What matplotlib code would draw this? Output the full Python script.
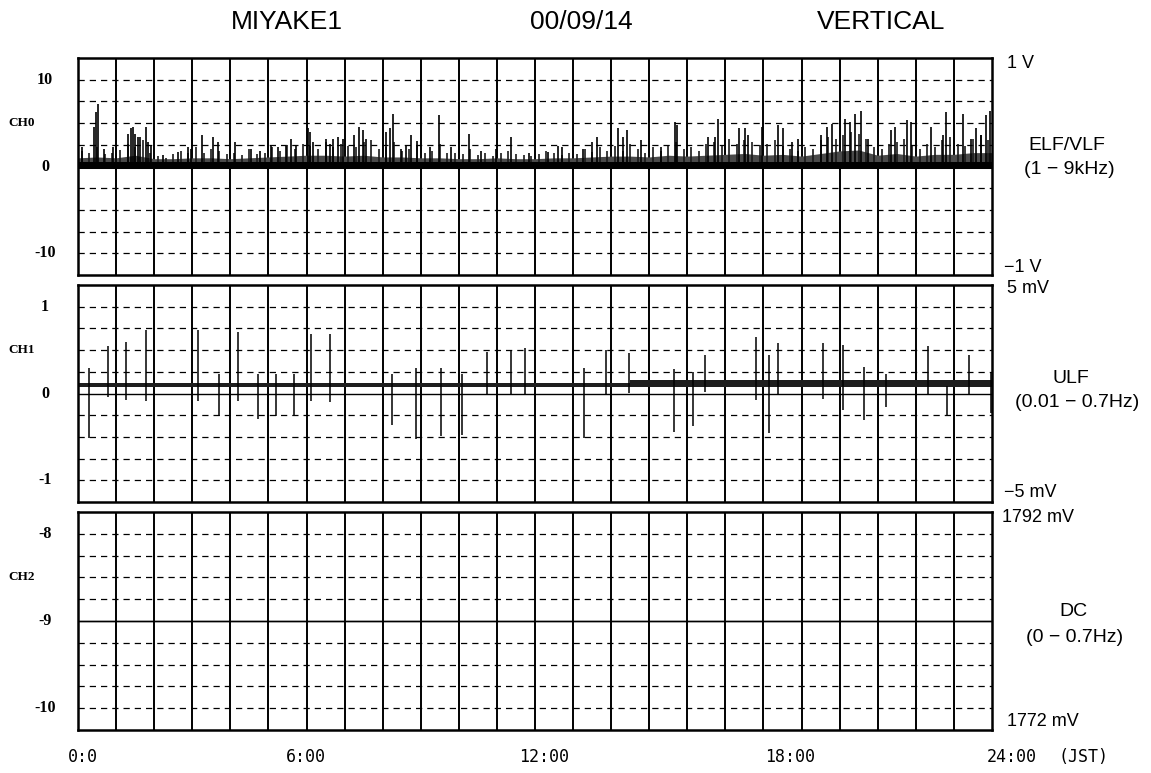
import numpy as np
import matplotlib.pyplot as plt
from matplotlib import transforms

# ---- data ----
hours = list(range(25))

# CH0 (ELF/VLF) background grass floor, every 0.5 h
grass_t = [i * 0.5 for i in range(49)]
grass_h = [1.0, 1.1, 1.0, 1.3, 0.9, 0.9, 1.0, 1.0, 0.9, 1.0, 1.1, 1.2, 1.3, 1.3, 1.2, 1.3,
           1.1, 1.1, 1.0, 1.0, 0.9, 0.9, 1.0, 0.9, 0.9, 1.0, 1.0, 1.1, 1.2, 1.2, 1.1, 1.3,
           1.2, 1.3, 1.4, 1.5, 1.3, 1.4, 1.2, 1.5, 1.8, 1.9, 1.3, 1.5, 1.2, 1.4, 1.4, 1.6, 1.6]

# CH0 small bursts, one per 0.2 h bin
small_t = [0.1 + i * 0.2 for i in range(120)]
small_h = [1.8, 1.5, 2.2, 1.4, 1.6, 1.9, 2.6, 2.2, 3.0, 1.6,
           1.2, 1.0, 1.4, 1.8, 1.5, 2.2, 1.6, 2.0, 1.8, 1.4,
           1.5, 1.3, 2.0, 1.4, 1.6, 2.2, 1.8, 2.5, 2.0, 2.6,
           2.4, 2.0, 2.8, 2.2, 2.6, 2.4, 2.2, 2.8, 3.0, 2.0,
           2.2, 2.8, 1.8, 2.0, 2.4, 1.6, 1.8, 2.6, 1.5, 1.6,
           1.4, 2.0, 1.3, 1.5, 1.2, 1.6, 1.8, 1.4, 1.3, 1.2,
           1.4, 1.8, 1.5, 1.3, 1.6, 1.4, 2.0, 1.7, 2.2, 1.8,
           2.4, 1.8, 2.6, 2.0, 1.6, 2.2, 1.8, 2.4, 2.8, 2.0,
           2.2, 1.8, 2.6, 2.8, 2.4, 3.2, 2.6, 3.0, 2.8, 2.5,
           2.6, 3.0, 2.4, 2.0, 1.8, 2.2, 2.0, 3.0, 3.4, 3.2,
           3.6, 4.0, 3.8, 3.2, 2.2, 2.0, 2.6, 2.8, 3.2, 2.4,
           2.0, 2.6, 2.2, 3.0, 3.4, 2.6, 2.4, 3.2, 3.6, 3.0]

# CH0 spikes: time (h) and peak
ch0_t = [0.10, 0.42, 0.48, 0.52, 0.68, 0.92, 1.01, 1.31, 1.40, 1.44, 1.50, 1.57, 1.64, 1.78,
         1.84, 1.92, 2.23, 2.62, 2.89, 2.97, 3.25, 3.54, 3.67, 4.11, 4.55, 4.77, 5.07, 5.25,
         5.47, 5.60, 5.73, 6.04, 6.08, 6.17, 6.52, 6.61, 6.69, 6.82, 6.96, 7.26, 7.39, 7.48,
         7.57, 8.09, 8.18, 8.27, 8.49, 8.62, 8.75, 8.91, 9.23, 9.49, 9.80, 10.28, 10.59,
         10.98, 11.36, 11.85,
         12.35, 12.61, 12.70, 13.27, 13.49, 13.64, 14.17, 14.32, 14.41, 14.78, 15.32, 15.67,
         15.74, 16.55, 16.72, 16.81, 17.35, 17.51, 17.60, 17.95, 18.39, 18.52, 18.74, 18.91,
         19.52, 19.66, 19.81, 20.14, 20.27, 20.40, 20.56, 20.75, 21.36, 21.45, 21.78, 21.87,
         22.39, 22.72, 22.78, 23.24, 23.46, 23.59, 23.72, 23.85, 23.94]
ch0_h = [2.3, 4.5, 6.25, 7.2, 2.0, 2.3, 2.4, 3.8, 4.4, 4.5, 3.8, 3.4, 3.4, 4.5,
         2.8, 2.4, 1.3, 1.7, 2.3, 2.0, 3.6, 3.4, 2.8, 2.8, 2.0, 1.8, 2.4, 2.2,
         2.4, 3.2, 2.4, 4.4, 4.0, 2.8, 3.2, 2.6, 3.2, 3.4, 3.2, 3.6, 4.5, 4.2,
         3.2, 4.0, 4.4, 6.1, 2.0, 2.4, 3.6, 2.9, 2.3, 5.9, 2.3, 3.8, 1.8,
         2.0, 3.4, 1.5,
         1.7, 2.4, 2.2, 2.0, 2.8, 3.4, 4.4, 3.4, 4.2, 3.0, 2.3, 5.1,
         4.8, 3.4, 3.4, 5.5, 4.4, 4.4, 3.6, 4.5, 4.8, 4.4, 2.8, 3.2,
         3.6, 4.5, 4.9, 5.5, 5.1, 6.1, 6.4, 3.2, 4.2, 4.5, 5.3, 5.1,
         4.5, 3.6, 6.25, 6.1, 3.2, 4.4, 3.6, 5.9, 6.4]

# CH1 (ULF) trace: level and half width before / after 14.5 h
ch1_seg_t = [0.0, 14.5, 24.0]
ch1_level = [0.10, 0.12, 0.12]
ch1_width = [0.026, 0.040, 0.040]

# CH1 spikes: time, top, bottom
ch1_t = [0.28, 0.78, 1.27, 1.78, 3.14, 3.71, 4.21, 4.72, 5.21, 5.68, 6.13, 6.63, 8.24, 8.88,
         9.53, 10.08, 10.75, 11.36, 11.73, 13.29, 13.87, 14.47, 15.65, 16.16, 16.46, 17.81,
         18.15, 18.38, 19.57, 20.09, 20.64, 21.21, 22.31, 22.82, 23.40, 23.97]
ch1_top = [0.29, 0.55, 0.59, 0.73, 0.73, 0.23, 0.71, 0.23, 0.23, 0.23, 0.69, 0.68, 0.23, 0.29,
           0.29, 0.23, 0.48, 0.49, 0.52, 0.29, 0.50, 0.47, 0.28, 0.25, 0.44, 0.65,
           0.44, 0.58, 0.58, 0.56, 0.31, 0.23, 0.55, 0.09, 0.44, 0.25]
ch1_bot = [-0.51, -0.04, -0.07, -0.09, -0.09, -0.26, -0.09, -0.29, -0.26, -0.26, -0.09, -0.10,
           -0.36, -0.52, -0.49, -0.48, -0.02, -0.02, -0.02, -0.51, -0.02, 0.01, -0.44, -0.37,
           0.02, -0.07, -0.46, 0.0, -0.06, -0.19, -0.31, -0.16, 0.0, -0.25, 0.0, -0.23]

# CH2 (DC) reading
ch2_t = [0, 24]
ch2_v = [-9.0, -9.0]

W, H = 1151, 773
fig = plt.figure(figsize=(W / 100, H / 100), dpi=100)


def px(x, y):
    return x / W, 1 - y / H


panels = [
    # bottom px, top px, ylim, center, ticks
    (275, 58, (-12.5, 12.5), 0.0, [10, 0, -10], ['10', '0', '-10'], 'CH0', 5.0),
    (502, 285, (-1.25, 1.25), 0.0, [1, 0, -1], ['1', '0', '-1'], 'CH1', 0.5),
    (730, 512, (-10.25, -7.75), -9.0, [-8, -9, -10], ['-8', '-9', '-10'], 'CH2', -8.5),
]

left, right = 78, 992
axes = []
for bot, top, ylim, center, tks, tls, ch, chy in panels:
    ax = fig.add_axes([left / W, 1 - bot / H, (right - left) / W, (bot - top) / H])
    ax.set_xlim(0, 24)
    ax.set_ylim(*ylim)
    ax.set_xticks([])
    ax.set_yticks([])
    for s in ax.spines.values():
        s.set_linewidth(1.8)
    step = (ylim[1] - ylim[0]) / 10
    for k in range(1, 10):
        yv = ylim[0] + k * step
        if abs(yv - center) < 1e-9:
            ax.axhline(yv, color='black', lw=1.0, zorder=1)
        else:
            ax.axhline(yv, color='black', lw=0.9, ls=(0, (5, 4)), zorder=1)
    for hh in hours[1:-1]:
        ax.axvline(hh, color='black', lw=1.4, zorder=1)
    tr = transforms.blended_transform_factory(fig.transFigure, ax.transData)
    for v, lab in zip(tks, tls):
        fig.text(45 / W, v, lab, transform=tr, ha='center', va='center',
                 family='Liberation Serif', weight='bold', fontsize=11.5)
    fig.text(22 / W, chy, ch, transform=tr, ha='center', va='center',
             family='Liberation Serif', weight='bold', fontsize=9.5)
    axes.append(ax)

ax0, ax1, ax2 = axes

# CH0
ax0.fill_between(grass_t, 0, grass_h, color='#4a4a4a', lw=0, zorder=2)
ax0.vlines(small_t, 0, small_h, color='#1a1a1a', lw=1.2, zorder=3)
ax0.fill_between([0, 24], 0, 0.55, color='black', lw=0, zorder=3)
ax0.axhline(0, color='black', lw=2.2, zorder=3)
ax0.vlines(ch0_t, 0, ch0_h, color='black', lw=1.2, zorder=3)

# CH1
lvl = np.array(ch1_level)
wid = np.array(ch1_width)
ax1.fill_between(ch1_seg_t, lvl - wid, lvl + wid, step='post', color='#1e1e1e', lw=0, zorder=2)
ax1.vlines(ch1_t, ch1_bot, ch1_top, color='black', lw=1.1, zorder=3)

# CH2
ax2.plot(ch2_t, ch2_v, color='black', lw=1.0, zorder=2)

# titles
for x, s in [(287, 'MIYAKE1'), (581, '00/09/14'), (881, 'VERTICAL')]:
    fig.text(*px(x, 22), s, ha='center', va='center', family='Liberation Sans', fontsize=19)

# right side scale labels
for x, y, s in [(1007, 63, '1 V'), (1004, 268, '\u22121 V'), (1007, 288, '5 mV'),
                (1004, 493, '\u22125 mV'), (1002, 518, '1792 mV'), (1007, 722, '1772 mV')]:
    fig.text(*px(x, y), s, ha='left', va='center', family='Liberation Sans', fontsize=13)

for x, y, s in [(1067, 145, 'ELF/VLF'), (1069, 170, '(1 \u2212 9kHz)'),
                (1071, 378, 'ULF'), (1077, 403, '(0.01 \u2212 0.7Hz)'),
                (1073, 612, 'DC'), (1075, 637, '(0 \u2212 0.7Hz)')]:
    fig.text(*px(x, y), s, ha='center', va='center', family='Liberation Sans', fontsize=14)

# time axis labels
for x, s in [(83, '0:0'), (306, '6:00'), (544, '12:00'), (790, '18:00'), (1012, '24:00'),
             (1083, '(JST)')]:
    fig.text(*px(x, 757), s, ha='center', va='center', family='DejaVu Sans Mono', fontsize=12)

fig.savefig('out.png', dpi=100)
